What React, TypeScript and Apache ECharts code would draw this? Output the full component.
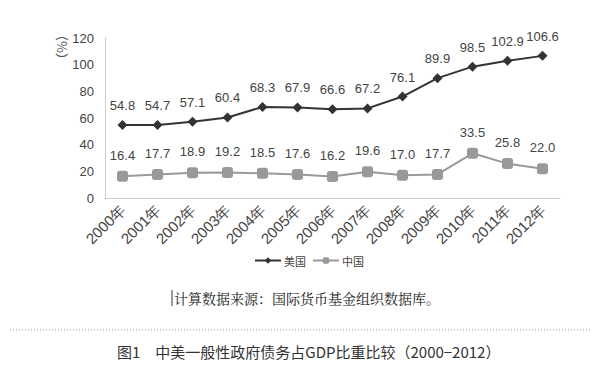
import React, { useEffect, useRef } from "react";
import * as echarts from "echarts";

const years = ["2000年","2001年","2002年","2003年","2004年","2005年","2006年","2007年","2008年","2009年","2010年","2011年","2012年"];
const usValues = [54.8,54.7,57.1,60.4,68.3,67.9,66.6,67.2,76.1,89.9,98.5,102.9,106.6];
const cnValues = [16.4,17.7,18.9,19.2,18.5,17.6,16.2,19.6,17.0,17.7,33.5,25.8,22.0];
const seriesNames = ["美国","中国"];

export default function App() {
  const ref = useRef<HTMLDivElement>(null);
  useEffect(() => {
    const chart = echarts.init(ref.current!, null, { renderer: "svg" });
    const font = "'Liberation Sans', Arial, sans-serif";
    chart.setOption({
      animation: false,
      backgroundColor: "#fff",
      textStyle: { fontFamily: font },
      grid: { left: 105, right: 40, top: 38, bottom: 179 },
      legend: {
        data: seriesNames,
        top: 255,
        left: 254,
        itemWidth: 26,
        itemHeight: 8,
        itemGap: 6,
        padding: 0,
        textStyle: { fontSize: 11, color: "#444", fontFamily: "'Noto Sans CJK SC', sans-serif", padding: [0, 0, 0, -2] },
      },
      xAxis: {
        type: "category",
        data: years,
        boundaryGap: true,
        axisLine: { lineStyle: { color: "#ccc" } },
        axisTick: { show: false },
        axisLabel: { rotate: 45, fontSize: 15, color: "#444", margin: 9, interval: 0 },
      },
      yAxis: {
        type: "value",
        min: 0,
        max: 120,
        interval: 20,
        axisLine: { show: true, lineStyle: { color: "#ccc" } },
        splitLine: { show: false },
        axisLabel: { fontSize: 13, color: "#444", margin: 11 },
      },
      series: [
        {
          name: seriesNames[0],
          type: "line",
          data: usValues,
          symbol: "diamond",
          symbolSize: 10,
          itemStyle: { color: "#333" },
          lineStyle: { color: "#333", width: 2 },
          label: { show: true, position: "top", distance: 8, fontSize: 13, color: "#444", formatter: (p: any) => p.value.toFixed(1) },
        },
        {
          name: seriesNames[1],
          type: "line",
          data: cnValues,
          symbol: "roundRect",
          symbolSize: 11,
          itemStyle: { color: "#999" },
          lineStyle: { color: "#999", width: 2 },
          label: { show: true, position: "top", distance: 9, fontSize: 13, color: "#444", formatter: (p: any) => p.value.toFixed(1) },
        },
      ],
      graphic: [
        {
          type: "text",
          x: 62,
          y: 47,
          rotation: -Math.PI / 2,
          style: {
            text: "（%）",
            fontSize: 13,
            fontFamily: "'Noto Sans CJK SC', sans-serif",
            fill: "#555",
            align: "center",
            verticalAlign: "middle",
          },
        },
        {
          type: "line",
          shape: { x1: 172, y1: 290, x2: 172, y2: 306 },
          style: { stroke: "#333", lineWidth: 1 },
        },
        {
          type: "text",
          x: 174,
          y: 298,
          style: {
            text: "计算数据来源：国际货币基金组织数据库。",
            fontSize: 14,
            fontFamily: "'Noto Serif CJK SC', 'Noto Sans CJK SC', serif",
            fill: "#222",
            verticalAlign: "middle",
          },
        },
        {
          type: "line",
          shape: { x1: 10, y1: 330, x2: 590, y2: 330 },
          style: { stroke: "#999", lineWidth: 1, lineDash: [1, 2] },
        },
        {
          type: "text",
          x: 117,
          y: 351,
          style: {
            text: "图1　中美一般性政府债务占GDP比重比较（2000−2012）",
            fontSize: 15,
            fontFamily: "'Noto Sans CJK SC', sans-serif",
            fill: "#333",
            verticalAlign: "middle",
          },
        },
      ],
    });
    return () => chart.dispose();
  }, []);
  return <div ref={ref} style={{ width: 600, height: 377, position: "absolute", left: 0, top: 0 }} />;
}
